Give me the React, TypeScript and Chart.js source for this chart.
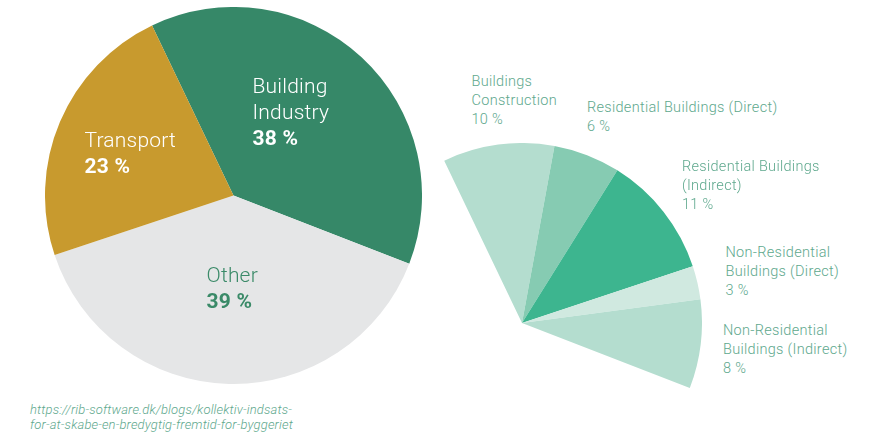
import React, { useEffect, useRef } from "react";
import { Chart, registerables } from "chart.js";

Chart.register(...registerables);

// ---- data ----
const mainCategories = ["Building Industry", "Other", "Transport"];
const mainValues = [38, 39, 23];
const mainColors = ["#368868", "#e5e6e7", "#c89a2e"];

const subCategories = [
  "Buildings Construction",
  "Residential Buildings (Direct)",
  "Residential Buildings (Indirect)",
  "Non-Residential Buildings (Direct)",
  "Non-Residential Buildings (Indirect)",
];
const subValues = [10, 6, 11, 3, 8];
const subColors = ["#b4ddcf", "#86cbb2", "#3db58f", "#d0e9e0", "#b4ddcf"];

// the rest of the whole (Other + Transport), kept invisible so the fan keeps the true angle scale
const restValue = mainValues[1] + mainValues[2];

const START_ROTATION = -25.6; // degrees from the top

const sourceLines = [
  "https://rib-software.dk/blogs/kollektiv-indsats-",
  "for-at-skabe-en-bredygtig-fremtid-for-byggeriet",
];

// ---- label layout (text only) ----
type Lbl = { lines: string[]; pct: string; left: number; top: number; color: string; big: boolean };
const labels: Lbl[] = [
  { lines: ["Building", "Industry"], pct: `${mainValues[0]} %`, left: 252.5, top: 73, color: "#ffffff", big: true },
  { lines: ["Transport"], pct: `${mainValues[2]} %`, left: 84.5, top: 127, color: "#ffffff", big: true },
  { lines: ["Other"], pct: `${mainValues[1]} %`, left: 206.5, top: 262, color: "#3a8a68", big: true },
  { lines: ["Buildings", "Construction"], pct: `${subValues[0]} %`, left: 471.5, top: 72.2, color: "#5ea88d", big: false },
  { lines: ["Residential Buildings (Direct)"], pct: `${subValues[1]} %`, left: 587, top: 98.2, color: "#5ea88d", big: false },
  { lines: ["Residential Buildings", "(Indirect)"], pct: `${subValues[2]} %`, left: 682, top: 156.5, color: "#5ea88d", big: false },
  { lines: ["Non-Residential", "Buildings (Direct)"], pct: `${subValues[3]} %`, left: 725.5, top: 242.8, color: "#5ea88d", big: false },
  { lines: ["Non-Residential", "Buildings (Indirect)"], pct: `${subValues[4]} %`, left: 723, top: 320.8, color: "#5ea88d", big: false },
];

const FONT = "Roboto, 'Noto Sans', sans-serif";

export default function App() {
  const leftRef = useRef<HTMLCanvasElement>(null);
  const rightRef = useRef<HTMLCanvasElement>(null);

  useEffect(() => {
    const common = {
      responsive: false,
      animation: false as const,
      events: [] as any[],
      layout: { padding: 0 },
      plugins: { legend: { display: false }, tooltip: { enabled: false }, title: { display: false } },
      rotation: START_ROTATION,
    };
    const left = new Chart(leftRef.current!, {
      type: "pie",
      data: {
        labels: mainCategories,
        datasets: [{ data: mainValues, backgroundColor: mainColors, borderWidth: 0 }],
      },
      options: common as any,
    });
    const right = new Chart(rightRef.current!, {
      type: "pie",
      data: {
        labels: [...subCategories, "rest"],
        datasets: [
          {
            data: [...subValues, restValue],
            backgroundColor: [...subColors, "rgba(0,0,0,0)"],
            borderWidth: 0,
          },
        ],
      },
      options: common as any,
    });
    return () => {
      left.destroy();
      right.destroy();
    };
  }, []);

  return (
    <div
      style={{
        position: "fixed",
        left: 0,
        top: 0,
        width: 886,
        height: 434,
        overflow: "hidden",
        background: "#ffffff",
        fontFamily: FONT,
      }}
    >
      <canvas ref={leftRef} width={377} height={377} style={{ position: "absolute", left: 45, top: 7, width: 377, height: 377 }} />
      <canvas ref={rightRef} width={360} height={360} style={{ position: "absolute", left: 342, top: 143, width: 360, height: 360 }} />
      {labels.map((l, i) => {
        const size = l.big ? 21 : 14.5;
        const lh = l.big ? 26 : 19;
        return (
          <div
            key={i}
            style={{
              position: "absolute",
              left: l.left,
              top: l.top,
              color: l.color,
              fontSize: size,
              lineHeight: `${lh}px`,
              fontWeight: 300,
              letterSpacing: l.big ? 0.2 : 0.3,
              whiteSpace: "nowrap",
            }}
          >
            {l.lines.map((t, j) => (
              <div key={j}>{t}</div>
            ))}
            <div style={{ fontWeight: l.big ? 700 : 300 }}>{l.pct}</div>
          </div>
        );
      })}
      <div
        style={{
          position: "absolute",
          left: 30,
          top: 401.5,
          color: "#5ea88d",
          fontSize: 13,
          lineHeight: "15px",
          letterSpacing: 0.15,
          fontStyle: "italic",
          fontWeight: 300,
          whiteSpace: "nowrap",
        }}
      >
        {sourceLines.map((t, j) => (
          <div key={j}>{t}</div>
        ))}
      </div>
    </div>
  );
}
